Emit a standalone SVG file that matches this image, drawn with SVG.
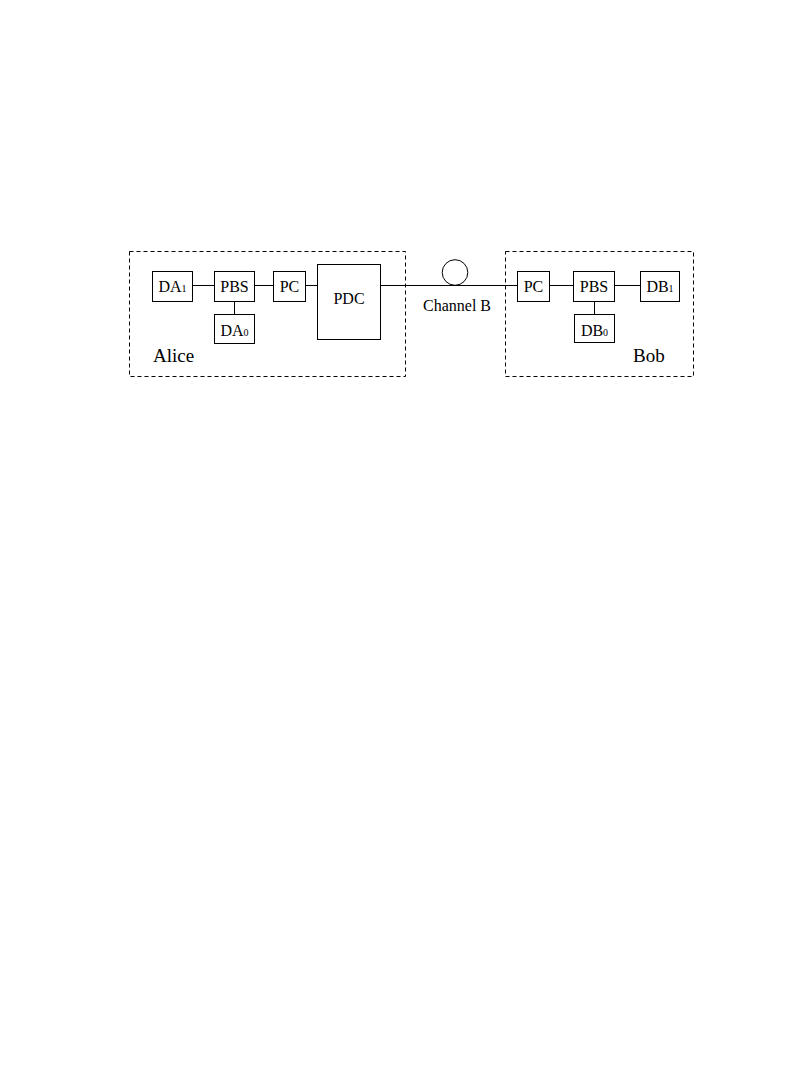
<svg xmlns="http://www.w3.org/2000/svg" width="799" height="1078" viewBox="0 0 799 1078">
<style>
.box{fill:#fff;stroke:#000;stroke-width:1}
.dash{fill:none;stroke:#000;stroke-width:1;stroke-dasharray:4,3}
.ln{stroke:#000;stroke-width:1;fill:none}
text{font-family:"Liberation Serif","Times New Roman",serif;fill:#000}
.lb{font-size:16px;text-anchor:middle}
.sub{font-size:10px}
.big{font-size:19px}
</style>
<rect width="799" height="1078" fill="#fff"/>
<g id="alice-frame"><rect class="dash" x="129.5" y="251.5" width="276" height="125"/><text class="big" x="153" y="362">Alice</text></g>
<g id="bob-frame"><rect class="dash" x="505.5" y="251.5" width="188" height="125"/><text class="big" x="633" y="362">Bob</text></g>
<g id="connectors">
<line class="ln" x1="193" y1="285.5" x2="214" y2="285.5"/>
<line class="ln" x1="255" y1="285.5" x2="273" y2="285.5"/>
<line class="ln" x1="305" y1="285.5" x2="317" y2="285.5"/>
<line class="ln" x1="234.5" y1="302" x2="234.5" y2="314"/>
<line class="ln" x1="381" y1="285.5" x2="517" y2="285.5"/>
<line class="ln" x1="549" y1="285.5" x2="573" y2="285.5"/>
<line class="ln" x1="615" y1="285.5" x2="640" y2="285.5"/>
<line class="ln" x1="594.5" y1="302" x2="594.5" y2="314"/>
</g>
<g id="channel"><circle class="ln" cx="455" cy="272.5" r="12.8"/><text class="lb" x="457" y="310.5">Channel B</text></g>
<g id="DA1"><rect class="box" x="152.5" y="271.5" width="40" height="30"/><text class="lb" x="172.5" y="292">DA<tspan class="sub">1</tspan></text></g>
<g id="PBS-A"><rect class="box" x="214.5" y="271.5" width="40" height="30"/><text class="lb" x="234.5" y="292">PBS</text></g>
<g id="DA0"><rect class="box" x="214.5" y="314.5" width="40" height="29"/><text class="lb" x="234.5" y="336">DA<tspan class="sub">0</tspan></text></g>
<g id="PC-A"><rect class="box" x="273.5" y="271.5" width="32" height="30"/><text class="lb" x="289.5" y="292">PC</text></g>
<g id="PDC"><rect class="box" x="317.5" y="264.5" width="63" height="75"/><text class="lb" x="349" y="304">PDC</text></g>
<g id="PC-B"><rect class="box" x="517.5" y="271.5" width="32" height="30"/><text class="lb" x="533.5" y="292">PC</text></g>
<g id="PBS-B"><rect class="box" x="573.5" y="271.5" width="41" height="30"/><text class="lb" x="594" y="292">PBS</text></g>
<g id="DB1"><rect class="box" x="640.5" y="271.5" width="39" height="30"/><text class="lb" x="660" y="292">DB<tspan class="sub">1</tspan></text></g>
<g id="DB0"><rect class="box" x="574.5" y="314.5" width="40" height="28"/><text class="lb" x="594.5" y="336">DB<tspan class="sub">0</tspan></text></g>
</svg>
